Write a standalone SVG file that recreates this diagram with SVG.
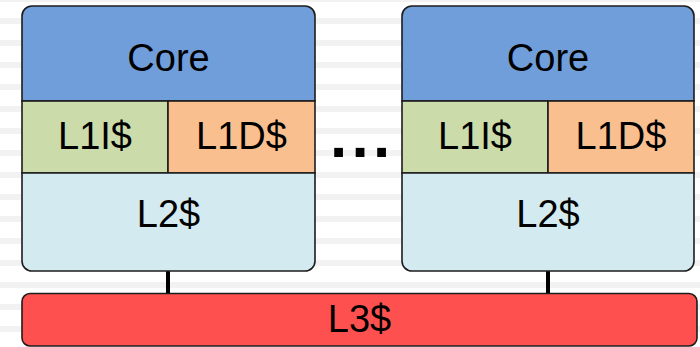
<svg xmlns="http://www.w3.org/2000/svg" width="700" height="347" viewBox="0 0 700 347">
  <defs>
    <pattern id="lines" x="0" y="-4" width="700" height="22" patternUnits="userSpaceOnUse">
      <rect x="0" y="0" width="700" height="6" fill="#f2f2f2"/>
    </pattern>
    <style>
      .box { stroke: #1c1c1c; stroke-width: 1.6; }
      .core { fill: #6f9edb; }
      .l1i { fill: #cbdbaa; }
      .l1d { fill: #f9bf8f; }
      .l2 { fill: #d2eaf0; }
      .l3 { fill: #ff5050; }
      .lbl { font-family: "Liberation Sans", Arial, sans-serif; font-size: 38px; fill: #000; text-anchor: middle; }
      .wire { stroke: #000; stroke-width: 4; fill: none; }
    </style>
  </defs>
  <rect x="0" y="0" width="700" height="347" fill="#ffffff"/>
  <rect x="0" y="0" width="700" height="347" fill="url(#lines)"/>

  <g id="connectors">
    <line class="wire" x1="168" y1="271" x2="168" y2="294"/>
    <line class="wire" x1="548" y1="271" x2="548" y2="294"/>
  </g>

  <g id="cpu1">
    <path class="box core" d="M22,101 V16 A10,10 0 0 1 32,6 H305 A10,10 0 0 1 315,16 V101 Z"/>
    <rect class="box l1i" x="22" y="101" width="146" height="72"/>
    <rect class="box l1d" x="168" y="101" width="147" height="72"/>
    <path class="box l2" d="M22,173 H315 V261 A10,10 0 0 1 305,271 H32 A10,10 0 0 1 22,261 Z"/>
    <text class="lbl" x="168.5" y="71">Core</text>
    <text class="lbl" x="95" y="149">L1I$</text>
    <text class="lbl" x="241.5" y="149">L1D$</text>
    <text class="lbl" x="168.5" y="227">L2$</text>
  </g>

  <g id="ellipsis">
    <text x="330" y="156.7" font-family="Liberation Sans, Arial, sans-serif" font-weight="bold" font-size="62" letter-spacing="4.3" fill="#000">...</text>
  </g>

  <g id="cpu2">
    <path class="box core" d="M402,101 V16 A10,10 0 0 1 412,6 H684 A10,10 0 0 1 694,16 V101 Z"/>
    <rect class="box l1i" x="402" y="101" width="146" height="72"/>
    <rect class="box l1d" x="548" y="101" width="146" height="72"/>
    <path class="box l2" d="M402,173 H694 V261 A10,10 0 0 1 684,271 H412 A10,10 0 0 1 402,261 Z"/>
    <text class="lbl" x="548" y="71">Core</text>
    <text class="lbl" x="475" y="149">L1I$</text>
    <text class="lbl" x="621" y="149">L1D$</text>
    <text class="lbl" x="548" y="227">L2$</text>
  </g>

  <g id="l3">
    <rect class="box l3" x="22" y="293.5" width="675" height="52.5" rx="8" ry="8"/>
    <text class="lbl" x="359.5" y="332">L3$</text>
  </g>
</svg>
